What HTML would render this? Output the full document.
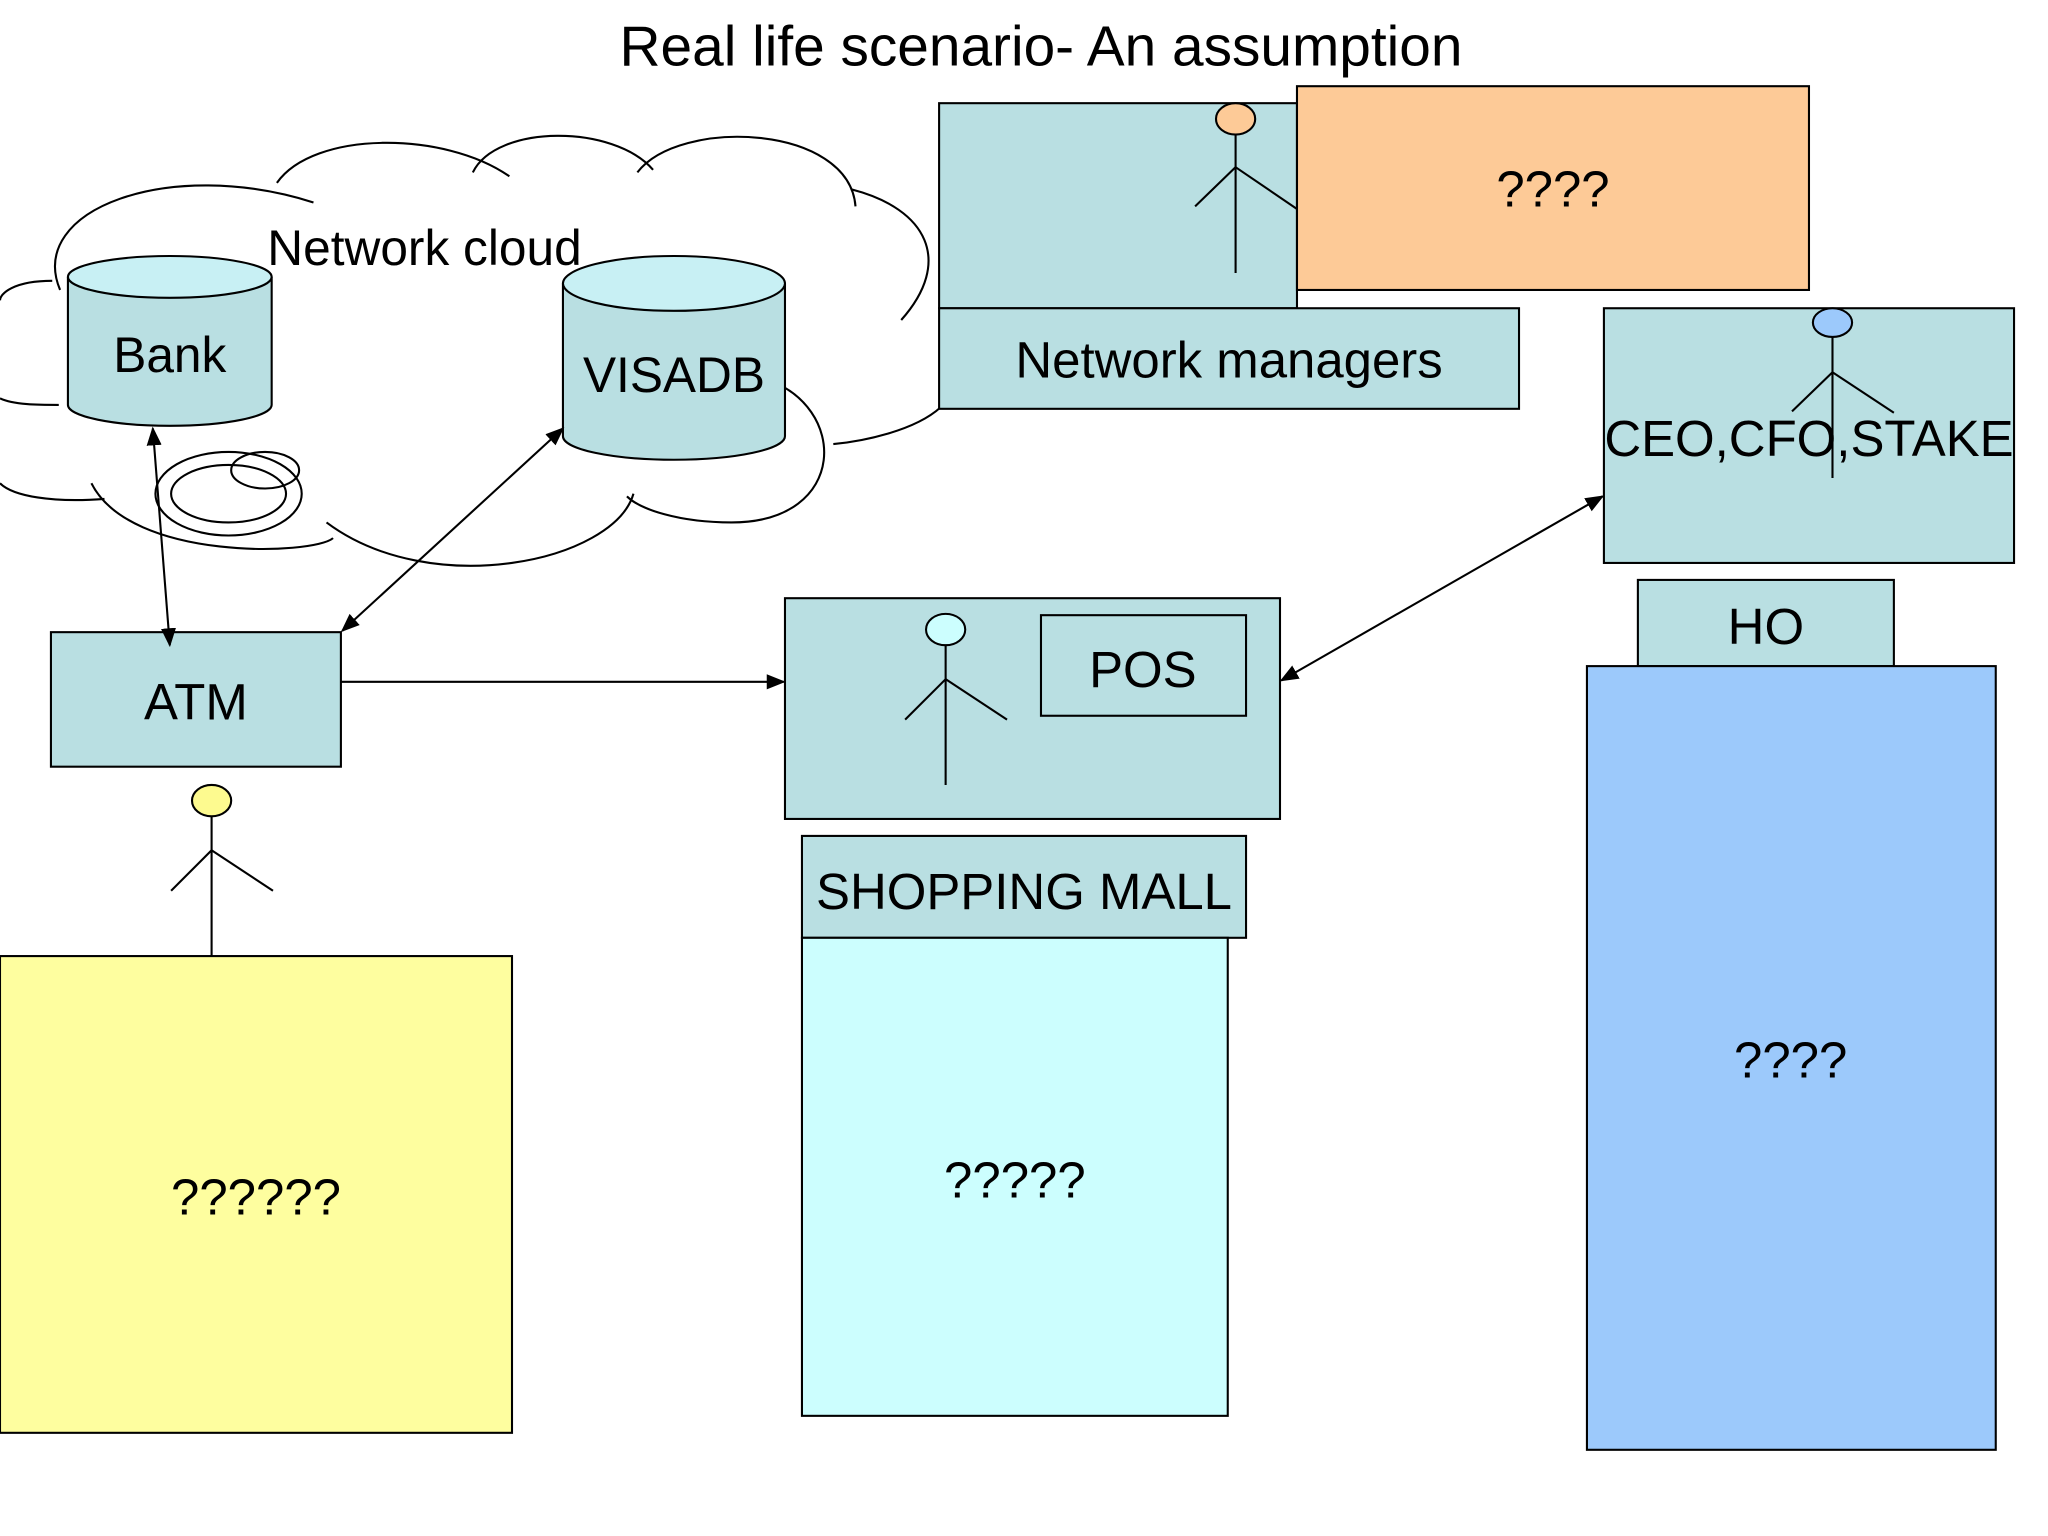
<!DOCTYPE html>
<html><head><meta charset="utf-8"><style>
html,body{margin:0;padding:0;background:#fff;}
svg{display:block;}
text{font-family:"Liberation Sans",sans-serif;fill:#000;}
</style></head><body>
<svg width="2048" height="1536" viewBox="0 0 1568 1176" xmlns="http://www.w3.org/2000/svg">
<defs><marker id="a" viewBox="0 0 10 10" refX="9" refY="5" markerWidth="9" markerHeight="9" orient="auto-start-reverse"><path d="M0,1 L10,5 L0,9 z" fill="#000"/></marker></defs>
<rect width="1568" height="1176" fill="#fff"/>
<text x="797" y="50" font-size="43.5" text-anchor="middle">Real life scenario- An assumption</text>
<g fill="none" stroke="#000" stroke-width="1.6">
<path d="M46,222 C20,160 130,120 240,155"/>
<path d="M212,140 C240,100 340,100 390,135"/>
<path d="M362,132 C380,95 470,95 500,130"/>
<path d="M488,132 C520,90 650,95 655,158"/>
<path d="M652,145 C710,160 730,200 690,245"/>
<path d="M720,312 C700,330 660,338 638,340"/>
<path d="M585,290 C650,310 650,400 560,400 C520,400 490,390 480,380"/>
<path d="M485,378 C470,430 330,460 250,400"/>
<path d="M255,412 C240,425 100,430 70,370"/>
<path d="M80,382 C40,385 10,380 0,370"/>
<path d="M40,215 C10,215 0,225 0,230"/>
<path d="M0,305 C10,310 30,310 45,310"/>
<ellipse cx="175" cy="378" rx="56" ry="32"/>
<ellipse cx="175" cy="378" rx="44" ry="22"/>
<ellipse cx="203" cy="360" rx="26" ry="14"/>
</g>
<text x="325" y="203" font-size="38" text-anchor="middle">Network cloud</text>
<path d="M52,212 V310 A78,16 0 0 0 208,310 V212" fill="#b9dfe2" stroke="#000" stroke-width="1.6"/>
<ellipse cx="130" cy="212" rx="78" ry="16" fill="#c8f0f4" stroke="#000" stroke-width="1.6"/>
<text x="130" y="285" font-size="38" text-anchor="middle">Bank</text>
<path d="M431,217 V334 A85,18 0 0 0 601,334 V217" fill="#b9dfe2" stroke="#000" stroke-width="1.6"/>
<ellipse cx="516" cy="217" rx="85" ry="21" fill="#c8f0f4" stroke="#000" stroke-width="1.6"/>
<text x="516" y="300" font-size="38" text-anchor="middle">VISADB</text>
<rect x="719" y="79" width="274" height="157" fill="#b9dfe2" stroke="#000" stroke-width="1.6"/>
<rect x="993" y="66" width="392" height="156" fill="#fdca97" stroke="#000" stroke-width="1.6"/>
<text x="1189" y="158" font-size="39" text-anchor="middle">????</text>
<rect x="719" y="236" width="444" height="77" fill="#b9dfe2" stroke="#000" stroke-width="1.6"/>
<text x="941" y="289" font-size="39" text-anchor="middle">Network managers</text>
<g stroke="#000" stroke-width="1.6" fill="none">
<ellipse cx="946" cy="91" rx="15" ry="12" fill="#fdca97"/>
<line x1="946" y1="103" x2="946" y2="209"/><line x1="915" y1="158" x2="946" y2="128"/><line x1="946" y1="128" x2="993" y2="160"/>
</g>
<rect x="1228" y="236" width="314" height="195" fill="#b9dfe2" stroke="#000" stroke-width="1.6"/>
<g stroke="#000" stroke-width="1.6" fill="none">
<ellipse cx="1403" cy="247" rx="15" ry="11" fill="#9cc9fb"/>
<line x1="1403" y1="258" x2="1403" y2="366"/><line x1="1372" y1="315" x2="1403" y2="285"/><line x1="1403" y1="285" x2="1450" y2="316"/>
</g>
<text x="1385" y="349" font-size="39" text-anchor="middle">CEO,CFO,STAKE</text>
<rect x="1254" y="444" width="196" height="66" fill="#b9dfe2" stroke="#000" stroke-width="1.6"/>
<text x="1352" y="493" font-size="39" text-anchor="middle">HO</text>
<rect x="1215" y="510" width="313" height="600" fill="#9cc9fb" stroke="#000" stroke-width="1.6"/>
<text x="1371" y="825" font-size="39" text-anchor="middle">????</text>
<rect x="39" y="484" width="222" height="103" fill="#b9dfe2" stroke="#000" stroke-width="1.6"/>
<text x="150" y="551" font-size="39" text-anchor="middle">ATM</text>
<g stroke="#000" stroke-width="1.6" fill="none">
<ellipse cx="162" cy="613" rx="15" ry="12" fill="#fdfa8f"/>
<line x1="162" y1="625" x2="162" y2="732"/><line x1="131" y1="682" x2="162" y2="651"/><line x1="162" y1="651" x2="209" y2="682"/>
</g>
<rect x="0" y="732" width="392" height="365" fill="#fefe9f" stroke="#000" stroke-width="1.6"/>
<text x="196" y="930" font-size="39" text-anchor="middle">??????</text>
<rect x="601" y="458" width="379" height="169" fill="#b9dfe2" stroke="#000" stroke-width="1.6"/>
<rect x="797" y="471" width="157" height="77" fill="#b9dfe2" stroke="#000" stroke-width="1.6"/>
<text x="875" y="526" font-size="39" text-anchor="middle">POS</text>
<g stroke="#000" stroke-width="1.6" fill="none">
<ellipse cx="724" cy="482" rx="15" ry="12" fill="#ccfefe"/>
<line x1="724" y1="494" x2="724" y2="601"/><line x1="693" y1="551" x2="724" y2="520"/><line x1="724" y1="520" x2="771" y2="551"/>
</g>
<rect x="614" y="640" width="340" height="78" fill="#b9dfe2" stroke="#000" stroke-width="1.6"/>
<text x="784" y="696" font-size="39" text-anchor="middle">SHOPPING MALL</text>
<rect x="614" y="718" width="326" height="366" fill="#ccfefe" stroke="#000" stroke-width="1.6"/>
<text x="777" y="917" font-size="39" text-anchor="middle">?????</text>
<g stroke="#000" stroke-width="1.6" fill="none">
<line x1="117" y1="328" x2="130" y2="494" marker-start="url(#a)" marker-end="url(#a)"/>
<line x1="431" y1="328" x2="262" y2="483" marker-start="url(#a)" marker-end="url(#a)"/>
<line x1="261" y1="522" x2="600" y2="522" marker-end="url(#a)"/>
<line x1="1227" y1="380" x2="981" y2="521" marker-start="url(#a)" marker-end="url(#a)"/>
</g>
</svg>
</body></html>
